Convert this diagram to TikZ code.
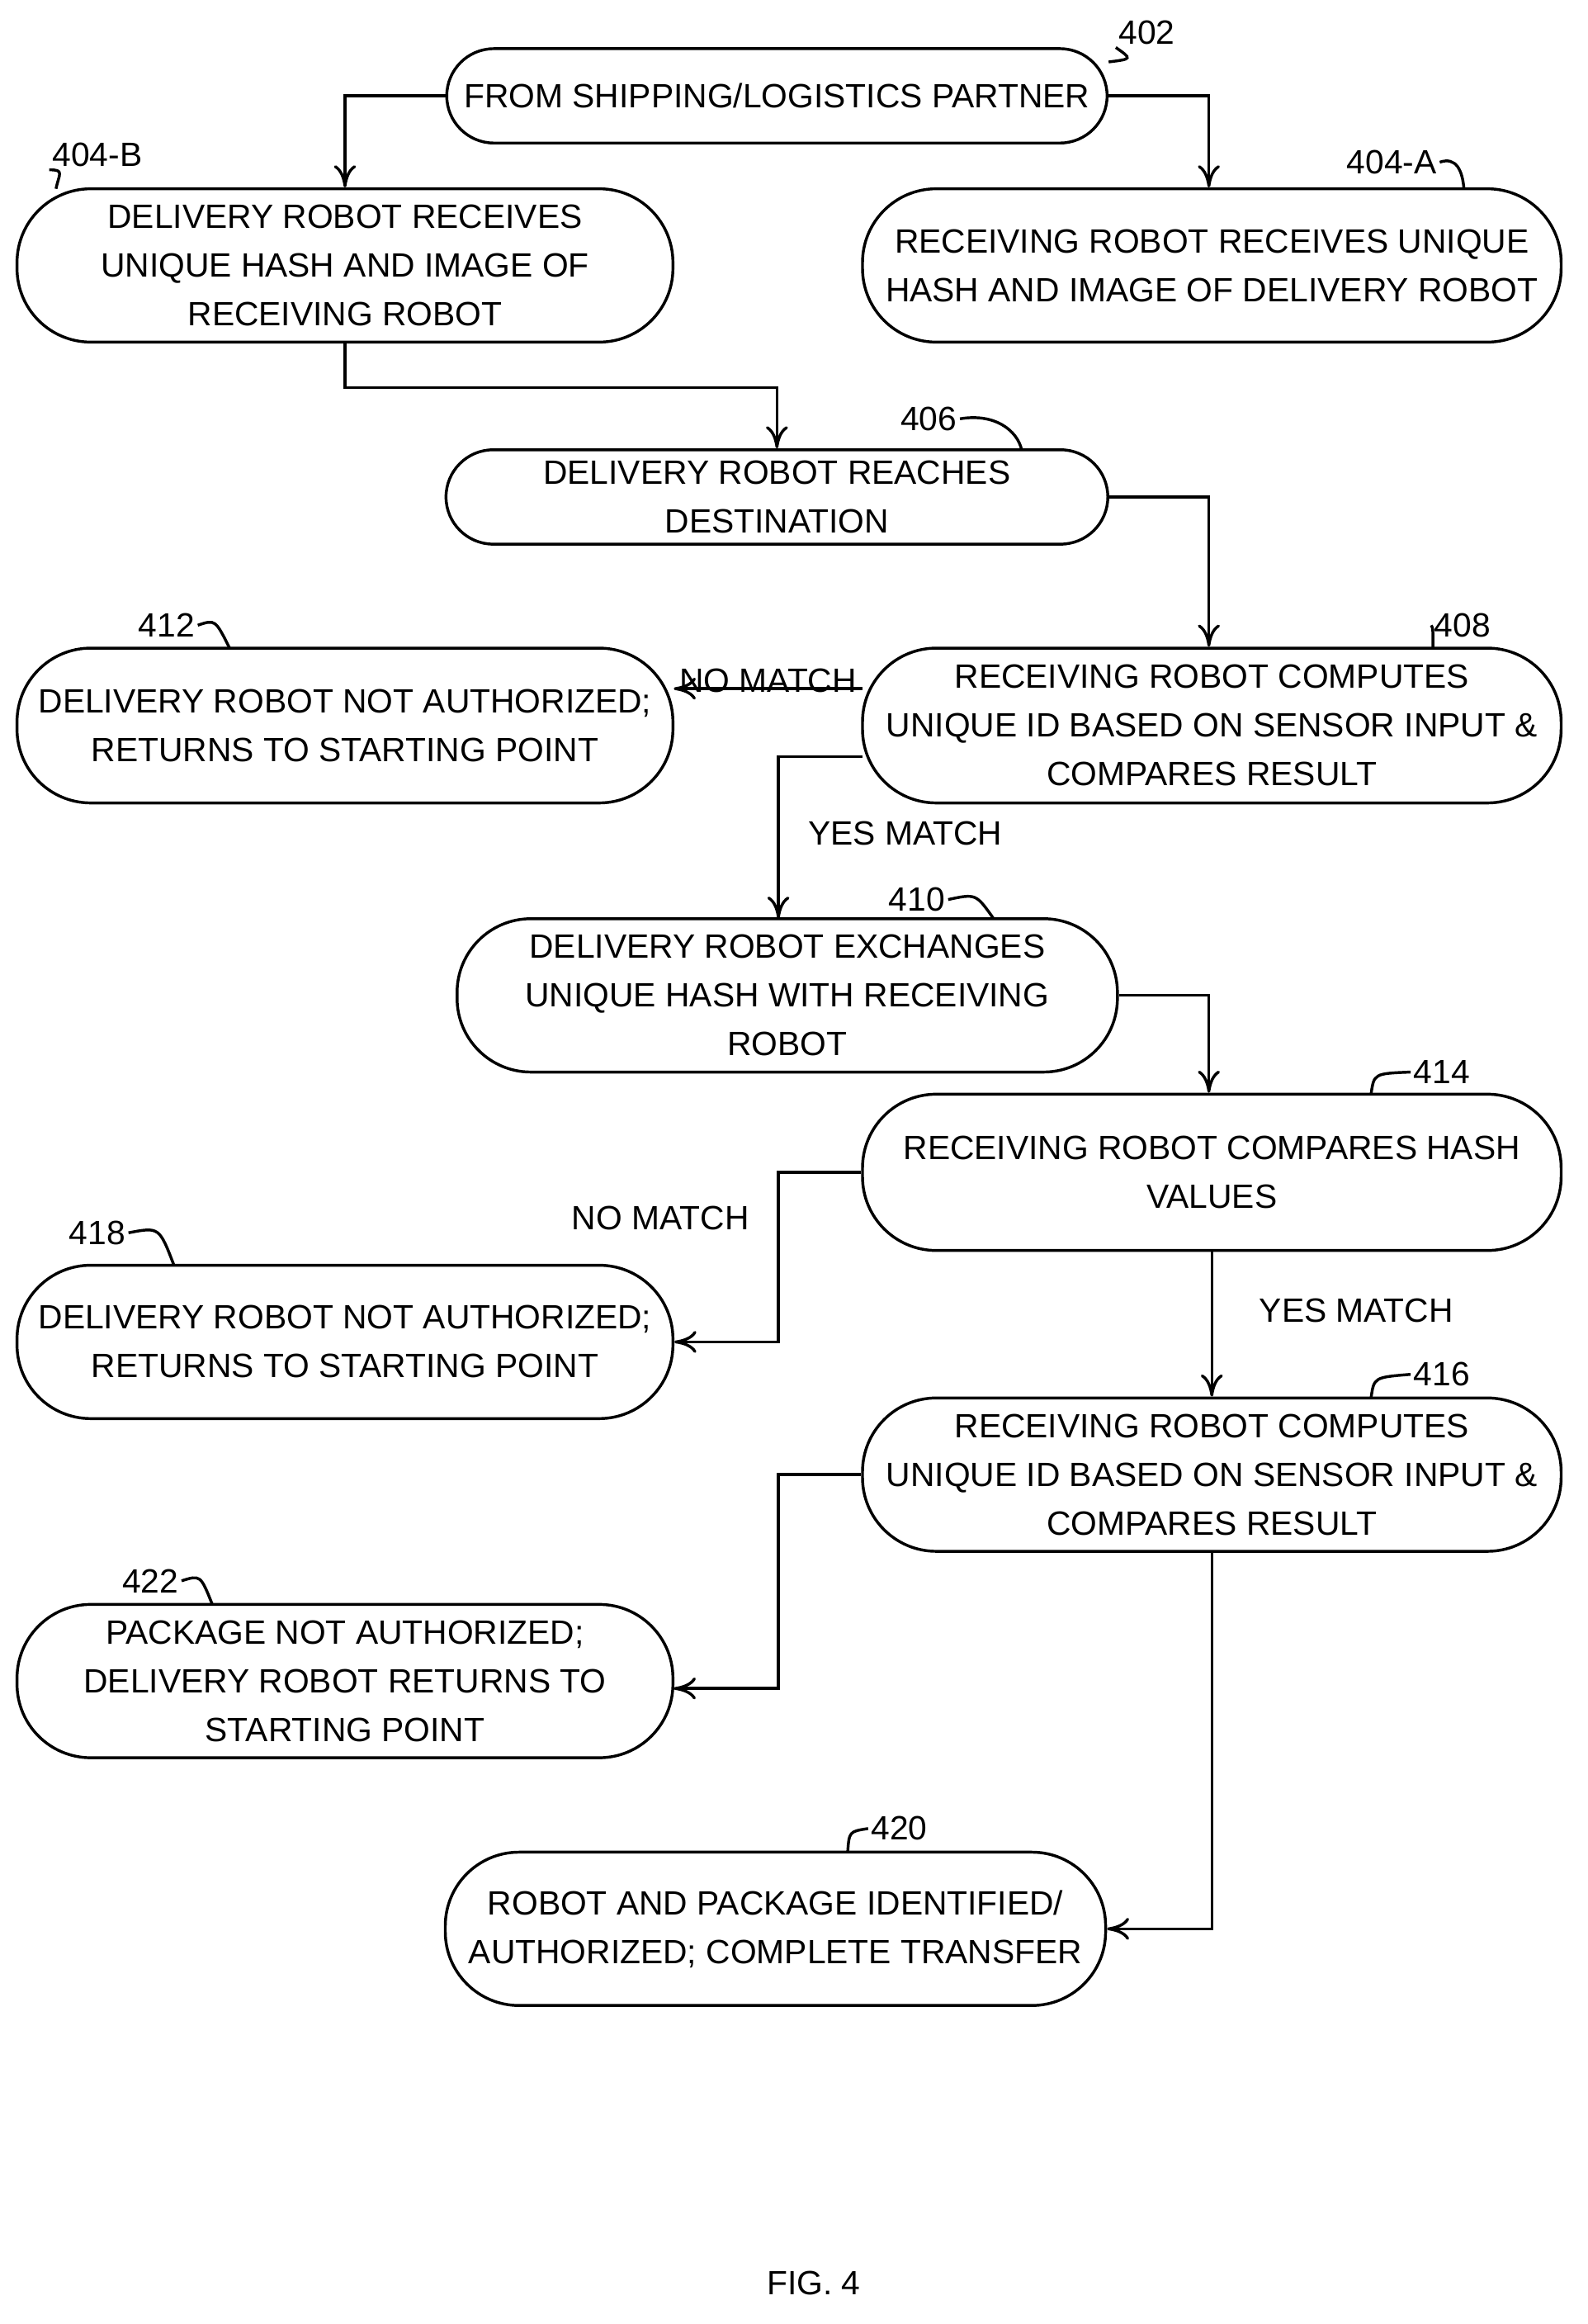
\documentclass[tikz,border=0pt]{standalone}
\usepackage{fontspec}
\setmainfont{Liberation Sans}
\usetikzlibrary{arrows.meta, positioning}
\tikzset{
  step/.style={draw, line width=1.1pt, rounded corners=#1, align=center,
    inner sep=0pt, font=\fontsize{13}{18.8}\selectfont},
  step/.default=1cm,
  wire/.style={line width=1.1pt, -{To[length=3mm,width=3mm]}},
  lead/.style={line width=1.1pt},
  tag/.style={font=\fontsize{13}{16}\selectfont, inner sep=1pt},
}
\begin{document}
\begin{tikzpicture}[x=0.02cm, y=-0.02cm]
  \useasboundingbox (0,0) rectangle (1077,1576);
  % Steps
  \node[step=0.64cm, minimum width=8.96cm, minimum height=1.28cm] (n402) at (527,65) {FROM SHIPPING/LOGISTICS PARTNER};
  \node[step, minimum width=8.9cm, minimum height=2.08cm] (n404b) at (234,180) {DELIVERY ROBOT RECEIVES\\UNIQUE HASH AND IMAGE OF\\RECEIVING ROBOT};
  \node[step, minimum width=9.48cm, minimum height=2.08cm] (n404a) at (822,180) {RECEIVING ROBOT RECEIVES UNIQUE\\HASH AND IMAGE OF DELIVERY ROBOT};
  \node[step=0.64cm, minimum width=8.98cm, minimum height=1.28cm] (n406) at (527,337) {DELIVERY ROBOT REACHES\\DESTINATION};
  \node[step, minimum width=9.48cm, minimum height=2.1cm] (n408) at (822,492) {RECEIVING ROBOT COMPUTES\\UNIQUE ID BASED ON SENSOR INPUT \&\\COMPARES RESULT};
  \node[step, minimum width=8.9cm, minimum height=2.1cm] (n412) at (234,492) {DELIVERY ROBOT NOT AUTHORIZED;\\RETURNS TO STARTING POINT};
  \node[step, minimum width=8.96cm, minimum height=2.08cm] (n410) at (534,675) {DELIVERY ROBOT EXCHANGES\\UNIQUE HASH WITH RECEIVING\\ROBOT};
  \node[step, minimum width=9.48cm, minimum height=2.12cm] (n414) at (822,795) {RECEIVING ROBOT COMPARES HASH\\VALUES};
  \node[step, minimum width=8.9cm, minimum height=2.08cm] (n418) at (234,910) {DELIVERY ROBOT NOT AUTHORIZED;\\RETURNS TO STARTING POINT};
  \node[step, minimum width=9.48cm, minimum height=2.08cm] (n416) at (822,1000) {RECEIVING ROBOT COMPUTES\\UNIQUE ID BASED ON SENSOR INPUT \&\\COMPARES RESULT};
  \node[step, minimum width=8.9cm, minimum height=2.08cm] (n422) at (234,1140) {PACKAGE NOT AUTHORIZED;\\DELIVERY ROBOT RETURNS TO\\STARTING POINT};
  \node[step, minimum width=8.96cm, minimum height=2.08cm] (n420) at (526,1308) {ROBOT AND PACKAGE IDENTIFIED/\\AUTHORIZED; COMPLETE TRANSFER};

  % Wiring
  \draw[wire] (n402.west) -| (n404b.north);
  \draw[wire] (n402.east) -| ([xshift=-0.04cm]n404a.north);
  \draw[wire] (n404b.south) |- (527,263) -- (n406.north);
  \draw[wire] (n406.east) -| ([xshift=-0.04cm]n408.north);
  \draw[wire] (585,467) -- (457,467) node[midway, above=-3pt, tag] {NO MATCH};
  \draw[wire] (585,513) -| (528,623);
  \node[tag] (ym1) at (614,565) {YES MATCH};
  \draw[wire] (n410.east) -| ([xshift=-0.04cm]n414.north);
  \draw[wire] (n414.west) -| (528,910) -- (n418.east);
  \node[tag] (nm2) at (448,826) {NO MATCH};
  \draw[wire] (n414.south) -- (n416.north);
  \node[tag] (ym2) at (920,889) {YES MATCH};
  \draw[wire] (n416.west) -| (528,1145) -- (457,1145);
  \draw[wire] (n416.south) |- (n420.east);

  % Reference numerals
  \node[tag] (r402) at (778,22) {402};
  \draw[lead] (752,42) .. controls (768,40) .. (r402.south west);
  \node[tag] (r404b) at (66,105) {404-B};
  \draw[lead] (38,128) .. controls (40,118) and (44,115) .. (r404b.south west);
  \node[tag] (r404a) at (944,110) {404-A};
  \draw[lead] (r404a.east) .. controls (988,106) and (992,116) .. (993,128);
  \node[tag] (r406) at (630,284) {406};
  \draw[lead] (r406.east) .. controls (675,280) and (690,292) .. (693,305);
  \node[tag] (r408) at (992,424) {408};
  \draw[lead] (972,440) .. controls (972,426) .. (r408.west);
  \node[tag] (r412) at (113,424) {412};
  \draw[lead] (r412.east) .. controls (146,420) .. (156,440);
  \node[tag] (r410) at (622,610) {410};
  \draw[lead] (r410.east) .. controls (662,606) .. (674,623);
  \node[tag] (r414) at (978,727) {414};
  \draw[lead] (930,742) .. controls (932,728) .. (r414.west);
  \node[tag] (r418) at (66,836) {418};
  \draw[lead] (r418.east) .. controls (108,832) .. (118,858);
  \node[tag] (r416) at (978,932) {416};
  \draw[lead] (930,948) .. controls (932,934) .. (r416.west);
  \node[tag] (r422) at (102,1072) {422};
  \draw[lead] (r422.east) .. controls (136,1068) .. (144,1088);
  \node[tag] (r420) at (610,1240) {420};
  \draw[lead] (575,1256) .. controls (576,1242) .. (r420.west);

  \node[tag] (fig) at (552,1548) {FIG. 4};
\end{tikzpicture}
\end{document}
